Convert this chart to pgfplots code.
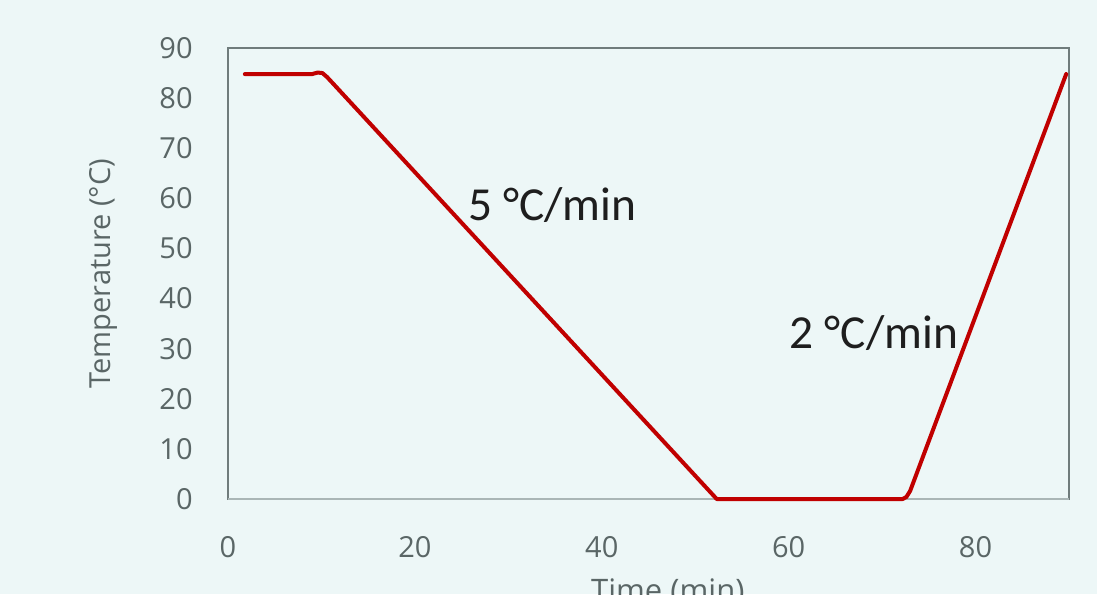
\documentclass[border=0pt]{standalone}
\usepackage{pgfplots}
\pgfplotsset{compat=1.18}
\usepackage{fontspec}
\setmainfont{Open Sans}
\newfontfamily\annfont{Carlito}
\definecolor{bg}{RGB}{237,247,247}
\definecolor{framecol}{RGB}{112,124,124}
\definecolor{basecol}{RGB}{170,182,182}
\definecolor{ticktext}{RGB}{90,102,102}
\definecolor{anntext}{RGB}{30,30,30}
\definecolor{curve}{RGB}{192,0,0}
\begin{document}
\begin{tikzpicture}
\clip[use as bounding box] (-114pt,-47.5pt) rectangle (434.5pt,249.5pt);
\fill[bg] (-114pt,-47.5pt) rectangle (434.5pt,249.5pt);
\begin{axis}[
  scale only axis,
  width=420.5pt, height=225.5pt,
  xmin=0, xmax=90, ymin=0, ymax=90,
  xtick={0,20,40,60,80},
  ytick={0,10,...,90},
  major tick length=0pt,
  /pgf/number format/assume math mode=true,
  axis line style={draw=framecol, line width=1pt},
  tick label style={font=\fontsize{14.5}{16}\selectfont, text=ticktext, inner sep=0pt},
  x tick label style={anchor=center, yshift=-24pt},
  y tick label style={anchor=east, xshift=-17.5pt},
  every axis y label/.style={at={(rel axis cs:0,0.5)}, xshift=-62.5pt, rotate=90, anchor=center, font=\fontsize{14.5}{16}\selectfont, text=ticktext},
  every axis x label/.style={at={(rel axis cs:0.523,0)}, yshift=-39.5pt, anchor=north, inner sep=0pt, font=\fontsize{15.5}{17}\selectfont, text=ticktext},
  xlabel={Time (min)},
  ylabel={Temperature (°C)},
  clip=false,
]
\draw[basecol, line width=1pt] (rel axis cs:0,0) -- (rel axis cs:1,0);
\addplot[curve, line width=2pt, line join=round, line cap=round] coordinates {
(1.8,84.8) (9.0,84.8) (9.6,85.1) (10.1,85.0) (10.6,84.2) (11.2,83.0)
(52.3,0) (72.2,0) (72.6,0.4) (73.0,1.6) (89.7,84.8)
};
\node[anchor=west, inner sep=0pt, font=\annfont\fontsize{23.7}{26}\selectfont, text=anntext] at (axis cs:25.7,58.7) {5 °C/min};
\node[anchor=west, inner sep=0pt, font=\annfont\fontsize{23.7}{26}\selectfont, text=anntext] at (axis cs:60.1,33.1) {2 °C/min};
\end{axis}
\end{tikzpicture}
\end{document}
